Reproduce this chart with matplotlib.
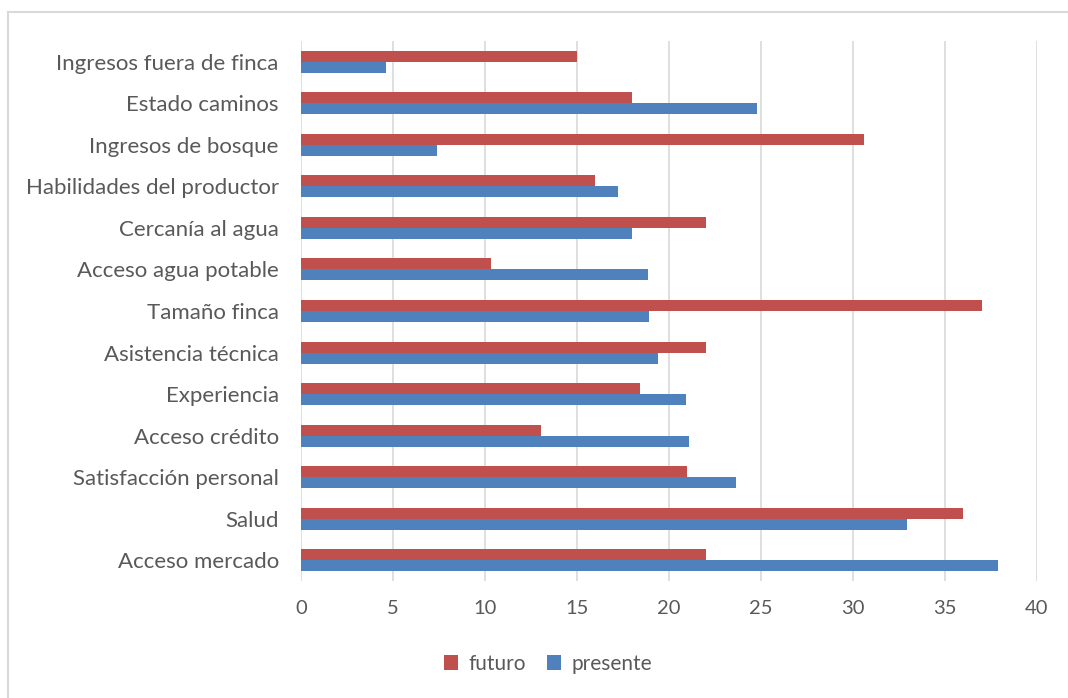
import numpy as np
import matplotlib.pyplot as plt
from matplotlib.lines import Line2D

plt.rcParams['font.family'] = ['Lato', 'DejaVu Sans']

# Factors, listed top to bottom
factores = [
    'Ingresos fuera de finca', 'Estado caminos', 'Ingresos de bosque',
    'Habilidades del productor', 'Cercanía al agua', 'Acceso agua potable',
    'Tamaño finca', 'Asistencia técnica', 'Experiencia', 'Acceso crédito',
    'Satisfacción personal', 'Salud', 'Acceso mercado',
]
futuro = [15.0, 18.0, 30.6, 16.0, 22.0, 10.3, 37.0, 22.0, 18.45, 13.05, 21.0, 36.0, 22.0]
presente = [4.6, 24.8, 7.4, 17.25, 18.0, 18.85, 18.9, 19.4, 20.9, 21.1, 23.65, 32.95, 37.9]

rojo = '#C0504D'
azul = '#4F81BD'
gris_texto = '#595959'

fig = plt.figure(figsize=(10.68, 6.98), dpi=100)
ax = fig.add_axes([301 / 1068, 1 - 581 / 698, 736 / 1068, 540 / 698])

y = np.arange(len(factores))
h = 0.265
ax.barh(y - h / 2, futuro, height=h, color=rojo, label='futuro', zorder=3)
ax.barh(y + h / 2, presente, height=h, color=azul, label='presente', zorder=3)

ax.set_ylim(len(factores) - 0.5, -0.5)
ax.set_xlim(0, 40)
ax.set_xticks(np.arange(0, 41, 5))
ax.set_yticks(y)
ax.set_yticklabels(factores)
ax.tick_params(axis='both', length=0, colors=gris_texto)
ax.tick_params(axis='y', pad=16, labelsize=16)
ax.tick_params(axis='x', pad=14, labelsize=14.5)
ax.grid(axis='x', color='#D9D9D9', linewidth=1.2, zorder=0)
for s in ax.spines.values():
    s.set_visible(False)

ax.legend(loc='center', bbox_to_anchor=(548 / 1068, 1 - 664 / 698),
          bbox_transform=fig.transFigure, ncol=2, frameon=False,
          fontsize=15, labelcolor=gris_texto, handlelength=0.7,
          handleheight=0.7, handletextpad=0.5, columnspacing=1.0)

# chart area border (top and left edges)
fig.add_artist(Line2D([8 / 1068, 1], [1 - 12 / 698, 1 - 12 / 698],
                      transform=fig.transFigure, color='#D9D9D9', linewidth=1.5))
fig.add_artist(Line2D([8 / 1068, 8 / 1068], [0, 1 - 12 / 698],
                      transform=fig.transFigure, color='#D9D9D9', linewidth=1.5))

fig.savefig('out.png', dpi=100)
